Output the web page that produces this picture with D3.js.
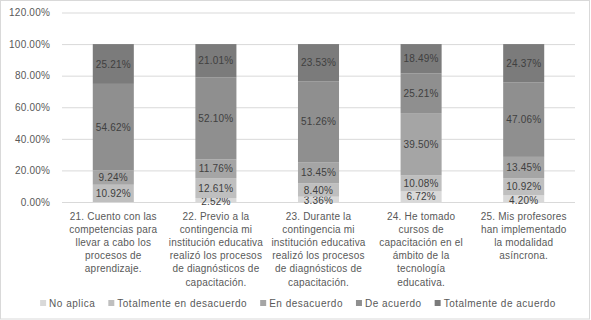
<!DOCTYPE html>
<html>
<head>
<meta charset="utf-8">
<script src="https://cdn.jsdelivr.net/npm/d3@7"></script>
<style>
  body { margin: 0; background: #fff; }
  text { font-family: "Liberation Sans", Arial, sans-serif; }
</style>
</head>
<body>
<div id="container"></div>
<script>
/* DATA */
const categories = [
  ["21. Cuento con las", "competencias para", "llevar a cabo los", "procesos de", "aprendizaje."],
  ["22. Previo a la", "contingencia mi", "institución educativa", "realizó los procesos", "de diagnósticos de", "capacitación."],
  ["23. Durante la", "contingencia mi", "institución educativa", "realizó los procesos", "de diagnósticos de", "capacitación."],
  ["24. He tomado", "cursos de", "capacitación en el", "ámbito de la", "tecnología", "educativa."],
  ["25. Mis profesores", "han implementado", "la modalidad", "asíncrona."]
]
const seriesNames = ["No aplica", "Totalmente en desacuerdo", "En desacuerdo", "De acuerdo", "Totalmente de acuerdo"]
const noAplica = [0, 2.52, 3.36, 6.72, 4.20]
const totDesacuerdo = [10.92, 12.61, 8.40, 10.08, 10.92]
const enDesacuerdo = [9.24, 11.76, 13.45, 39.50, 13.45]
const deAcuerdo = [54.62, 52.10, 51.26, 25.21, 47.06]
const totAcuerdo = [25.21, 21.01, 23.53, 18.49, 24.37]
const yTicks = [0, 20, 40, 60, 80, 100, 120]

/* CONSTANTS */
const width = 591
const height = 320
const margin = { left: 62, right: 16, top: 12.5, bottom: 118 }
const colors = ["#d9d9d9", "#bfbfbf", "#a5a5a5", "#8f8f8f", "#7b7b7b"]

const series = [noAplica, totDesacuerdo, enDesacuerdo, deAcuerdo, totAcuerdo]
const table = categories.map((c, i) => {
  const row = { idx: i }
  seriesNames.forEach((s, j) => row[s] = series[j][i])
  return row
})

const svg = d3.select("#container")
  .append("svg")
  .attr("width", width)
  .attr("height", height)

// chart border
svg.append("rect")
  .attr("x", 0.5).attr("y", 0.5)
  .attr("width", width - 2).attr("height", height - 1.5)
  .attr("fill", "#fff")
  .attr("stroke", "#d9d9d9")

/* SCALES */
const xScale = d3.scaleBand()
  .domain(table.map(d => d.idx))
  .range([margin.left, width - margin.right])
  .paddingInner(0.6)
  .paddingOuter(0.3)

const yScale = d3.scaleLinear()
  .domain([0, 120])
  .range([height - margin.bottom, margin.top])

const colorScale = d3.scaleOrdinal()
  .domain(seriesNames)
  .range(colors)

/* AXES */
const yAxis = d3.axisLeft(yScale)
  .tickValues(yTicks)
  .tickFormat(d => d.toFixed(2) + "%")
  .tickSizeInner(-(width - margin.left - margin.right))
  .tickSizeOuter(0)
  .tickPadding(12)

svg.append("g")
  .attr("transform", `translate(${margin.left},0)`)
  .call(yAxis)
  .call(g => g.select(".domain").remove())
  .call(g => g.selectAll("line").attr("stroke", "#d9d9d9"))
  .call(g => g.selectAll("text")
    .attr("fill", "#595959")
    .style("font-size", "10px")
    .style("letter-spacing", "0.2px"))

/* BARS */
const stacked = d3.stack().keys(seriesNames)(table)

const layers = svg.selectAll("g.layer")
  .data(stacked)
  .join("g")
  .attr("class", "layer")
  .attr("fill", d => colorScale(d.key))

layers.selectAll("rect")
  .data(d => d)
  .join("rect")
  .attr("x", d => xScale(d.data.idx))
  .attr("width", xScale.bandwidth())
  .attr("y", d => yScale(d[1]))
  .attr("height", d => yScale(d[0]) - yScale(d[1]))

// data labels (tiny bottom segments sit a bit lower, like the original)
layers.selectAll("text")
  .data(d => d.filter(p => p[1] - p[0] > 0))
  .join("text")
  .attr("x", d => xScale(d.data.idx) + xScale.bandwidth() / 2)
  .attr("y", d => yScale((d[0] + d[1]) / 2) + (d[1] - d[0] < 5 ? 1.5 : 0))
  .attr("dy", "0.35em")
  .attr("text-anchor", "middle")
  .attr("fill", "#404040")
  .style("font-size", "10px")
  .style("letter-spacing", "0.2px")
  .text(d => (d[1] - d[0]).toFixed(2) + "%")

/* CATEGORY LABELS */
const catLabels = svg.selectAll("text.cat")
  .data(categories)
  .join("text")
  .attr("class", "cat")
  .attr("text-anchor", "middle")
  .attr("fill", "#595959")
  .style("font-size", "10px")
  .style("letter-spacing", "0.2px")
  .attr("transform", (d, i) => `translate(${xScale(i) + xScale.bandwidth() / 2},${yScale(0) + 17.5})`)

catLabels.selectAll("tspan")
  .data(d => d)
  .join("tspan")
  .attr("x", 0)
  .attr("y", (d, i) => i * 13.2)
  .text(d => d)

/* LEGEND */
const legend = svg.append("g")
const items = legend.selectAll("g")
  .data(seriesNames)
  .join("g")

items.append("rect")
  .attr("width", 6).attr("height", 6)
  .attr("y", -3)
  .attr("fill", d => colorScale(d))

items.append("text")
  .attr("x", 9)
  .attr("dy", "0.35em")
  .attr("fill", "#595959")
  .style("font-size", "10px")
  .style("letter-spacing", "0.5px")
  .text(d => d)

let xPos = 0
items.each(function () {
  const w = d3.select(this).select("text").node().getComputedTextLength()
  d3.select(this).attr("transform", `translate(${xPos},0)`)
  xPos += 9 + w + 13
})
const legendWidth = xPos - 13
legend.attr("transform", `translate(${298 - legendWidth / 2},303)`)
</script>
</body>
</html>
